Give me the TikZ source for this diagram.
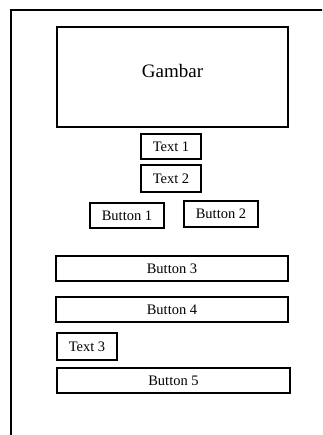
\documentclass[tikz,border=0pt]{standalone}
\usepackage{fontspec}
\setmainfont{Liberation Serif}
\begin{document}
\begin{tikzpicture}[x=1pt,y=1pt,
  box/.style={draw=black, line width=1.6pt, inner sep=0pt, font=\fontsize{14.5}{16}\selectfont},
  bigtext/.style={inner sep=0pt, font=\fontsize{19}{22}\selectfont}]
\useasboundingbox (0,0) rectangle (322,435);
\clip (0,0) rectangle (322,435);
% outer screen frame, running past the right and bottom edges
\draw[line width=1.7pt] (11,425) rectangle (340,-20);
% image area with its caption set a little above the middle
\node[box, minimum width=231.5pt, minimum height=100.5pt] (gambar) at (172.5,358) {};
\node[bigtext] (gambarlabel) at ([yshift=6pt]gambar.center) {Gambar};
% text labels
\node[box, minimum width=60.5pt, minimum height=25.5pt] (t1) at (171,288.5) {Text 1};
\node[box, minimum width=60.5pt, minimum height=26.5pt] (t2) at (171,256.5) {Text 2};
% small buttons
\node[box, minimum width=74.5pt, minimum height=25.5pt] (b1) at (127,219.5) {Button 1};
\node[box, minimum width=74.5pt, minimum height=26.5pt] (b2) at (221,221) {Button 2};
% wide buttons
\node[box, minimum width=232.5pt, minimum height=25.5pt] (b3) at (172,166.5) {Button 3};
\node[box, minimum width=232.5pt, minimum height=25.5pt] (b4) at (172,125.5) {Button 4};
\node[box, minimum width=60.5pt, minimum height=27.5pt] (t3) at (87,88.5) {Text 3};
\node[box, minimum width=233.5pt, minimum height=25.5pt] (b5) at (173.5,54.5) {Button 5};
\end{tikzpicture}
\end{document}
